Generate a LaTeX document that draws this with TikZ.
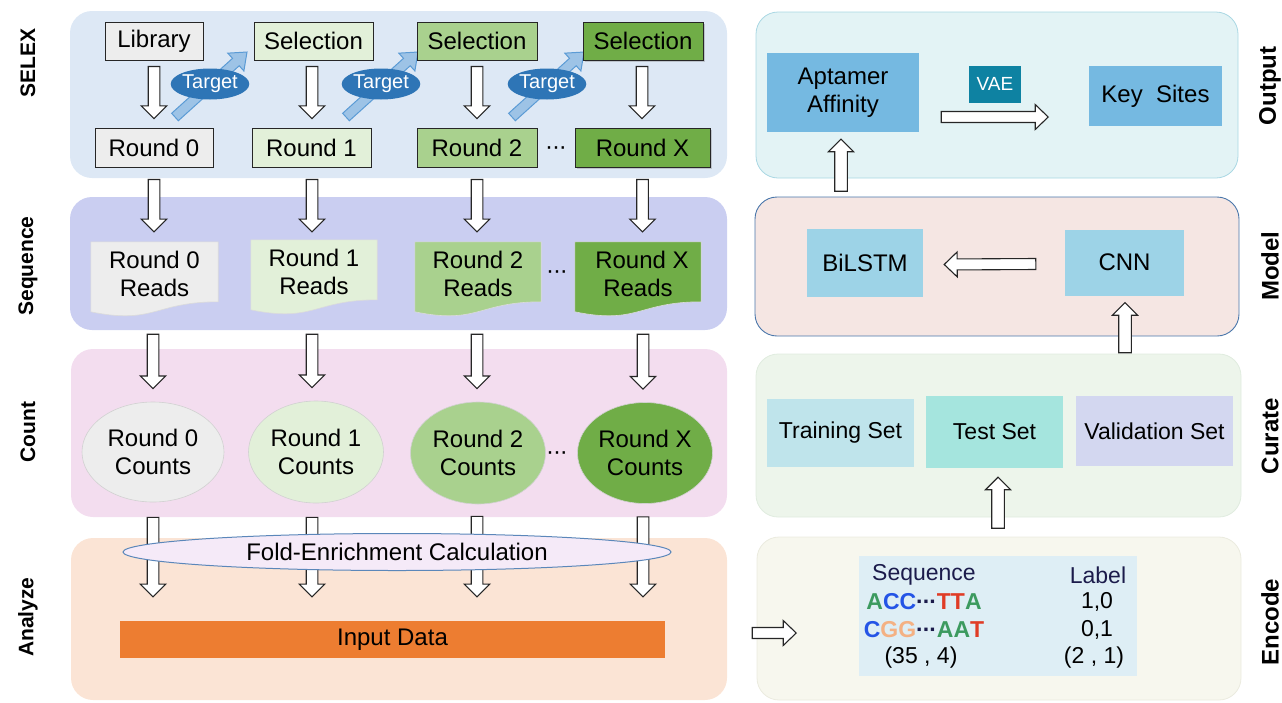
\documentclass[tikz,border=0pt]{standalone}
\usepackage{fontspec}
\setmainfont{Liberation Sans}
\usetikzlibrary{calc,shapes.geometric,shadows}
\definecolor{selP}{HTML}{DDE8F5}
\definecolor{seqP}{HTML}{CACEF1}
\definecolor{cntP}{HTML}{F3DDEF}
\definecolor{anaP}{HTML}{FBE4D5}
\definecolor{gZero}{HTML}{EDEDED}
\definecolor{gOne}{HTML}{E2F0D9}
\definecolor{gTwo}{HTML}{A9D18E}
\definecolor{gThree}{HTML}{70AD47}
\definecolor{tgtE}{HTML}{2E75B6}
\definecolor{tgtF}{HTML}{9DC3E6}
\definecolor{tgtD}{HTML}{5B9BD5}
\definecolor{foldF}{HTML}{F5EAF8}
\definecolor{foldD}{HTML}{5B87BA}
\definecolor{inpF}{HTML}{ED7D31}
\definecolor{outF}{HTML}{E3F3F5}
\definecolor{outD}{HTML}{A9D7E3}
\definecolor{aptF}{HTML}{75B9E1}
\definecolor{vaeF}{HTML}{0E82A2}
\definecolor{modF}{HTML}{F5E6E3}
\definecolor{modD}{HTML}{4A77AB}
\definecolor{bilF}{HTML}{9DD3E7}
\definecolor{curF}{HTML}{EDF5EB}
\definecolor{curD}{HTML}{E0ECDF}
\definecolor{trF}{HTML}{BFE4EB}
\definecolor{tsF}{HTML}{A5E5DE}
\definecolor{vaF}{HTML}{D3D7F0}
\definecolor{encF}{HTML}{F7F7EE}
\definecolor{encD}{HTML}{EBEBDF}
\definecolor{tblF}{HTML}{DEEEF5}
\definecolor{ntAc}{HTML}{3C9A5F}
\definecolor{ntCc}{HTML}{2454E6}
\definecolor{ntTc}{HTML}{E03C26}
\definecolor{ntGc}{HTML}{F4B183}
\definecolor{navyc}{HTML}{1B1B4B}
\newcommand{\ntA}{\textcolor{ntAc}{A}}
\newcommand{\ntC}{\textcolor{ntCc}{C}}
\newcommand{\ntT}{\textcolor{ntTc}{T}}
\newcommand{\ntG}{\textcolor{ntGc}{G}}
\newcommand{\mdots}{·\kern-0.05em·\kern-0.05em·}
\newcommand{\ntD}{\textcolor{navyc}{\mdots}}
\pgfdeclarelayer{back}
\pgfdeclarelayer{mid}
\pgfsetlayers{back,mid,main}
% block arrow: style, from, to, shaft half width, head half width, head length
\newcommand{\barr}[6]{%
  \path #2; \pgfgetlastxy{\baxa}{\baya}%
  \path #3; \pgfgetlastxy{\baxb}{\bayb}%
  \pgfmathsetmacro\baAng{atan2((\bayb)-(\baya),(\baxb)-(\baxa))}%
  \pgfmathsetmacro\baLen{veclen((\baxb)-(\baxa),(\bayb)-(\baya))}%
  \begin{scope}[shift={#2}, rotate=\baAng]
    \draw[#1] (0,-#4) -- (\baLen-#6,-#4) -- (\baLen-#6,-#5) -- (\baLen,0)
      -- (\baLen-#6,#5) -- (\baLen-#6,#4) -- (0,#4) -- cycle;
  \end{scope}}
\newcommand{\varr}[2]{\barr{blk}{#1}{#2}{5.8}{12.7}{12.7}}
\newcommand{\docfill}[2]{\filldraw[fill=#2, draw=black!14, line width=0.6pt]
  (#1.north west) -- (#1.north east) -- ($(#1.north east)+(0,60)$)
  .. controls ($(#1.north)+(0,60)$) and ($(#1.north)+(0,83)$) .. ($(#1.north west)+(0,70)$) -- cycle;}
\begin{document}
\begin{tikzpicture}[x=1pt,y=-1pt,
  fa/.style={font=\fontsize{24}{28}\selectfont},
  fb/.style={font=\fontsize{23}{27}\selectfont},
  fsm/.style={font=\fontsize{19}{22}\selectfont},
  lab/.style={font=\fontsize{21}{25}\selectfont\bfseries, rotate=90},
  labr/.style={font=\fontsize{24}{28}\selectfont\bfseries, rotate=90},
  sbox/.style={draw=black!85, line width=0.9pt, inner sep=0, minimum height=38, fa},
  shd/.style={drop shadow={shadow xshift=2pt, shadow yshift=-2pt, opacity=0.35}},
  docn/.style={inner sep=0, minimum height=64, align=center, fa},
  cnt/.style={ellipse, draw=black!18, line width=0.6pt, inner sep=0, align=center, fa},
  tgt/.style={ellipse, fill=tgtE, text=white, inner sep=0, minimum width=78, minimum height=31, font=\fontsize{20}{23}\selectfont},
  blk/.style={fill=white, draw=black!85, line width=1.1pt, line join=miter},
  tga/.style={fill=tgtF, draw=tgtD, line width=1pt},
  rbox/.style={inner sep=0, align=center, fa},
  cbox/.style={inner sep=0, align=center, fb},
  txt/.style={inner sep=0, fb}
]
\useasboundingbox (0,0) rectangle (1282,702);
% ---------- panels ----------
\begin{pgfonlayer}{back}
\fill[selP, rounded corners=22] (70,11) rectangle (727,178);
\fill[seqP, rounded corners=22] (70,197) rectangle (727,330);
\fill[cntP, rounded corners=22] (71,349) rectangle (727,517);
\fill[anaP, rounded corners=22] (71,538) rectangle (727,700);
\filldraw[fill=outF, draw=outD, line width=0.8pt, rounded corners=22] (756,12) rectangle (1238,178);
\filldraw[fill=modF, draw=modD, line width=0.9pt, rounded corners=22] (755,197) rectangle (1239,336);
\filldraw[fill=curF, draw=curD, line width=0.8pt, rounded corners=22] (756,354) rectangle (1241,517);
\filldraw[fill=encF, draw=encD, line width=0.8pt, rounded corners=22] (757,537) rectangle (1241,700);
\end{pgfonlayer}
% ---------- side labels ----------
\node[lab] (lSel) at (28,63) {SELEX};
\node[lab] (lSeq) at (28,266) {Sequence};
\node[lab] (lCnt) at (28,432) {Count};
\node[lab] (lAna) at (28,617) {Analyze};
\node[labr] (lOut) at (1270,86) {Output};
\node[labr] (lMod) at (1270,266) {Model};
\node[labr] (lCur) at (1270,436) {Curate};
\node[labr] (lEnc) at (1270,622) {Encode};
% ---------- SELEX ----------
\node[sbox, fill=gZero, minimum width=98] (lib) at (154,41) {Library};
\node[sbox, fill=gOne, minimum width=119] (sel1) at (313.5,41) {Selection};
\node[sbox, fill=gTwo, minimum width=120] (sel2) at (477,41) {Selection};
\node[sbox, fill=gThree, minimum width=120, shd] (sel3) at (643,41) {Selection};
\node[sbox, fill=gZero, minimum width=118, minimum height=39] (r0) at (154,147.5) {Round 0};
\node[sbox, fill=gOne, minimum width=119, minimum height=39] (r1) at (311.5,147.5) {Round 1};
\node[sbox, fill=gTwo, minimum width=120, minimum height=39] (r2) at (477,147.5) {Round 2};
\node[sbox, fill=gThree, minimum width=135, minimum height=39, shd] (rx) at (642.5,147.5) {Round X};
\node[rbox] (dots1) at (556,151) {\mdots};
\coordinate (t1c) at (210,84);
\coordinate (t2c) at (381,84);
\coordinate (t3c) at (547,84);
\begin{pgfonlayer}{mid}
\barr{tga}{($(t1c)+(-35,33)$)}{($(t1c)+(37,-32)$)}{5}{12}{15}
\barr{tga}{($(t2c)+(-35,33)$)}{($(t2c)+(37,-32)$)}{5}{12}{15}
\barr{tga}{($(t3c)+(-35,33)$)}{($(t3c)+(37,-32)$)}{5}{12}{15}
\end{pgfonlayer}
\node[tgt] (t1) at (t1c) {Target};
\node[tgt] (t2) at (t2c) {Target};
\node[tgt] (t3) at (t3c) {Target};
% ---------- Sequence ----------
\node[docn, minimum width=127] (d0) at (154.5,274) {Round 0\\Reads};
\node[docn, minimum width=126] (d1) at (314,272) {Round 1\\Reads};
\node[docn, minimum width=126] (d2) at (478,274) {Round 2\\Reads};
\node[docn, minimum width=126] (dx) at (638,274) {\hspace{8pt}Round X\\Reads};
\node[rbox] (dots2) at (557,275) {\mdots};
\begin{pgfonlayer}{back}
\docfill{d0}{gZero}
\docfill{d1}{gOne}
\docfill{d2}{gTwo}
\docfill{dx}{gThree}
\end{pgfonlayer}
% ---------- Count ----------
\node[cnt, fill=gZero, minimum width=142, minimum height=100] (e0) at (153,452) {Round 0\\Counts};
\node[cnt, fill=gOne, minimum width=135, minimum height=102] (e1) at (316,452) {Round 1\\Counts};
\node[cnt, fill=gTwo, minimum width=135, minimum height=102] (e2) at (478,453) {Round 2\\Counts};
\node[cnt, fill=gThree, minimum width=135, minimum height=101] (ex) at (645,453) {Round X\\Counts};
\node[rbox] (dots3) at (557,456) {\mdots};
% ---------- Analyze ----------
\node[inner sep=0, fill=inpF, minimum width=545, minimum height=37, fa] (inp) at (392.5,639.5) {Input Data};
% ---------- block arrows, left side ----------
\begin{pgfonlayer}{mid}
\varr{($(lib.south)+(0,6)$)}{($(lib.south |- r0.north)+(0,-9)$)}
\varr{($(sel1.south)+(-1.5,6)$)}{($(sel1.south |- r1.north)+(-1.5,-9)$)}
\varr{($(sel2.south)+(0,6)$)}{($(sel2.south |- r2.north)+(0,-9)$)}
\varr{($(sel3.south)+(-1,6)$)}{($(sel3.south |- rx.north)+(-1,-9)$)}
\varr{($(r0.south)+(0,12)$)}{($(r0.south |- d0.north)+(0,-10)$)}
\varr{($(r1.south)+(0.5,12)$)}{($(r1.south |- d0.north)+(0.5,-10)$)}
\varr{($(r2.south)+(0,12)$)}{($(r2.south |- d0.north)+(0,-10)$)}
\varr{($(rx.south)+(0,12)$)}{($(rx.south |- d0.north)+(0,-10)$)}
\varr{($(e0.north |- d0.south)+(0,28)$)}{($(e0.north)+(0,-13)$)}
\varr{($(e1.north |- d0.south)+(-4,28)$)}{($(e1.north)+(-4,-13)$)}
\varr{($(e2.north |- d0.south)+(-1,28)$)}{($(e2.north)+(-1,-13)$)}
\varr{($(ex.north |- d0.south)+(-2,28)$)}{($(ex.north)+(-2,-13)$)}
\varr{($(e0.south)+(0,15)$)}{($(e0.south |- inp.north)+(0,-24)$)}
\varr{($(e1.south)+(-4,14)$)}{($(e1.south |- inp.north)+(-4,-24)$)}
\varr{($(e2.south)+(-1,12)$)}{($(e2.south |- inp.north)+(-1,-24)$)}
\varr{($(ex.south)+(-2,13)$)}{($(ex.south |- inp.north)+(-2,-24)$)}
\end{pgfonlayer}
\node[ellipse, fill=foldF, draw=foldD, line width=1pt, inner sep=0, minimum width=548, minimum height=37, fa] (fold) at (397,552) {Fold-Enrichment Calculation};
% ---------- Output ----------
\node[rbox, fill=aptF, minimum width=152, minimum height=79] (apt) at (843,92.5) {Aptamer\\Affinity};
\node[inner sep=0, fill=vaeF, text=white, minimum width=52, minimum height=37, fsm] (vae) at (995,84) {VAE};
\node[rbox, fill=aptF, minimum width=133, minimum height=60] (key) at (1155.5,96) {Key~ Sites};
% ---------- Model ----------
\node[rbox, fill=bilF, minimum width=116, minimum height=68] (bil) at (865,263) {BiLSTM};
\node[rbox, fill=bilF, minimum width=119, minimum height=66] (cnn) at (1124.5,262.5) {CNN};
% ---------- Curate ----------
\node[cbox, fill=trF, minimum width=147, minimum height=68] (tr) at (840.5,433) {Training Set};
\node[cbox, fill=tsF, minimum width=137, minimum height=72] (ts) at (994.5,432) {Test Set};
\node[cbox, fill=vaF, minimum width=157, minimum height=70] (va) at (1154.5,431) {Validation Set};
% ---------- Encode ----------
\node[inner sep=0, fill=tblF, minimum width=278, minimum height=120] (tbl) at (998,616) {};
\node[txt, text=navyc] (seqh) at (924,575) {Sequence};
\node[txt, text=navyc] (lblh) at (1098,575) {Label};
\node[txt, font=\fontsize{23}{27}\selectfont\bfseries] (s1) at (924,602) {\ntA\ntC\ntC\ntD\ntT\ntT\ntA};
\node[txt] (l1) at (1097,602) {1,0};
\node[txt, font=\fontsize{23}{27}\selectfont\bfseries] (s2) at (924,630) {\ntC\ntG\ntG\ntD\ntA\ntA\ntT};
\node[txt] (l2) at (1097,630) {0,1};
\node[txt] (s3) at (921,658) {(35 , 4)};
\node[txt] (l3) at (1094,658) {(2 , 1)};
% ---------- right side arrows ----------
\barr{blk}{($(inp.east)+(87,-6.5)$)}{($(inp.east)+(131,-6.5)$)}{5.5}{12.5}{13}
\barr{blk}{($(apt.east)+(22,24.5)$)}{($(apt.east)+(129,24.5)$)}{5.5}{12.5}{13}
\barr{blk}{($(apt.south)+(-2,59)$)}{($(apt.south)+(-2,7)$)}{6.3}{12.5}{12.5}
\barr{blk}{($(cnn.west)+(-29,1.5)$)}{($(bil.east)+(21,1.5)$)}{5.5}{12.5}{13}
\barr{blk}{($(cnn.south)+(0.5,57)$)}{($(cnn.south)+(0.5,7)$)}{6.3}{12.5}{12.5}
\barr{blk}{($(ts.south)+(3.5,60)$)}{($(ts.south)+(3.5,9)$)}{6.3}{12.5}{12.5}
\end{tikzpicture}
\end{document}
